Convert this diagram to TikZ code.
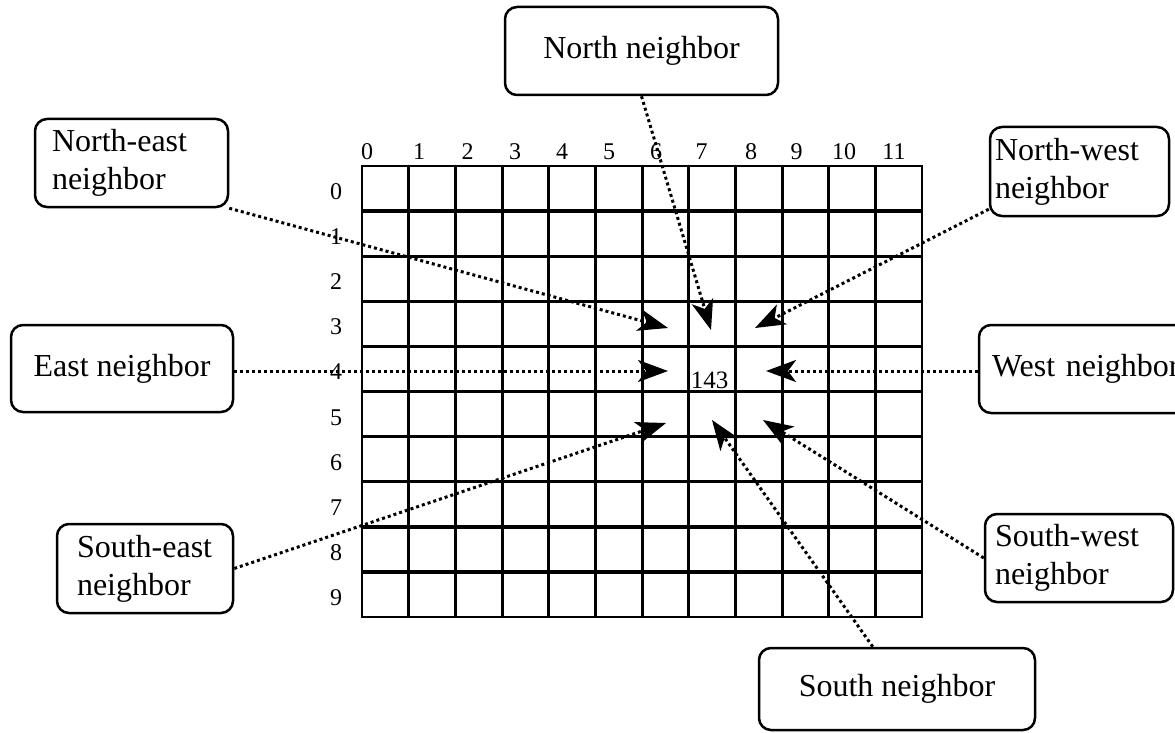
\documentclass[tikz,border=0pt]{standalone}
\usepackage{fontspec}
\setmainfont{Liberation Serif}
\usetikzlibrary{arrows.meta,calc}
\newcommand\boxfont{\fontsize{32}{38}\selectfont}
\newcommand\numfont{\fontsize{24}{28}\selectfont}
\begin{document}
\begin{tikzpicture}[x=1pt,y=-1pt,
  nbox/.style={draw, line width=2.5pt, rounded corners=12pt, font=\boxfont, inner ysep=0pt},
  lbox/.style={nbox, align=left},
  cbox/.style={nbox, align=center},
  hline/.style={line width=3.4pt},
  vline/.style={line width=3pt},
  frame/.style={line width=2.6pt},
  num/.style={font=\numfont, inner sep=0pt, anchor=base},
  link/.style={line width=3pt, dash pattern=on 3pt off 3pt,
    -{Stealth[length=30pt,width=22pt,inset=8pt]}}]
\useasboundingbox (0,0) rectangle (1175,733);

% the 12 x 10 grid of cells
\foreach \i in {1,...,11}
  \draw[vline] ({362+46.667*\i},166) -- ({362+46.667*\i},617);
\foreach \j in {1,...,9}
  \draw[hline] (362,{166+45.1*\j}) -- (922,{166+45.1*\j});
\draw[frame] (362,166) rectangle (922,617);

% column and row indices
\foreach \c/\x in {0/367,1/419,2/467.5,3/515,4/562,5/609,6/656,7/701.5,8/751,9/796.5,10/844,11/894}
  \node[num] (col\c) at (\x,159) {\c};
\foreach \r in {0,...,9}
  \node[num] (row\r) at (336,{166+45.1*(\r+0.5)+11}) {\r};

% the centre cell
\node[num, font=\fontsize{25}{28}\selectfont] (cell) at (709.5,388) {143};

% neighbour boxes
\node[cbox, minimum width=273pt, minimum height=88pt] (n) at (641.5,51) {North neighbor};
\node[lbox, text width=159pt, inner xsep=17pt, minimum height=88pt] (ne) at (131.5,163) {North-east\\neighbor};
\node[lbox, text width=169pt, inner xsep=5pt, minimum height=89pt] (nw) at (1079.5,171.5) {North-west\\neighbor};
\node[cbox, minimum width=222pt, minimum height=87pt] (e) at (122,368.5) {East neighbor};
\node[lbox, text width=190pt, inner xsep=13pt, minimum height=88pt] (w) at (1087,369) {West neighbor};
\node[lbox, text width=136pt, inner xsep=20pt, minimum height=89pt] (se) at (145,568.5) {South-east\\neighbor};
\node[lbox, text width=168pt, inner xsep=10pt, minimum height=88pt] (sw) at (1079,558) {South-west\\neighbor};
\node[cbox, minimum width=276pt, minimum height=82pt] (s) at (897,689) {South neighbor};

% arrow tips around the centre cell
\coordinate (tN) at (711,330);
\coordinate (tNE) at (668,328);
\coordinate (tNW) at (755,328);
\coordinate (tE) at (668,371);
\coordinate (tW) at (766,371);
\coordinate (tSE) at (666,423);
\coordinate (tS) at (712,420);
\coordinate (tSW) at (763,420);

% dotted connectors
\draw[link] (n.south) -- (tN);
\draw[link] (ne.south east) -- (tNE);
\draw[link] ($(nw.south west)+(0,-8)$) -- (tNW);
\draw[link] (e.east |- tE) -- (tE);
\draw[link] (w.west |- tW) -- (tW);
\draw[link] (se.east) -- (tSE);
\draw[link] ($(s.north west)!0.413!(s.north east)$) -- (tS);
\draw[link] (sw.west) -- (tSW);
\end{tikzpicture}
\end{document}
